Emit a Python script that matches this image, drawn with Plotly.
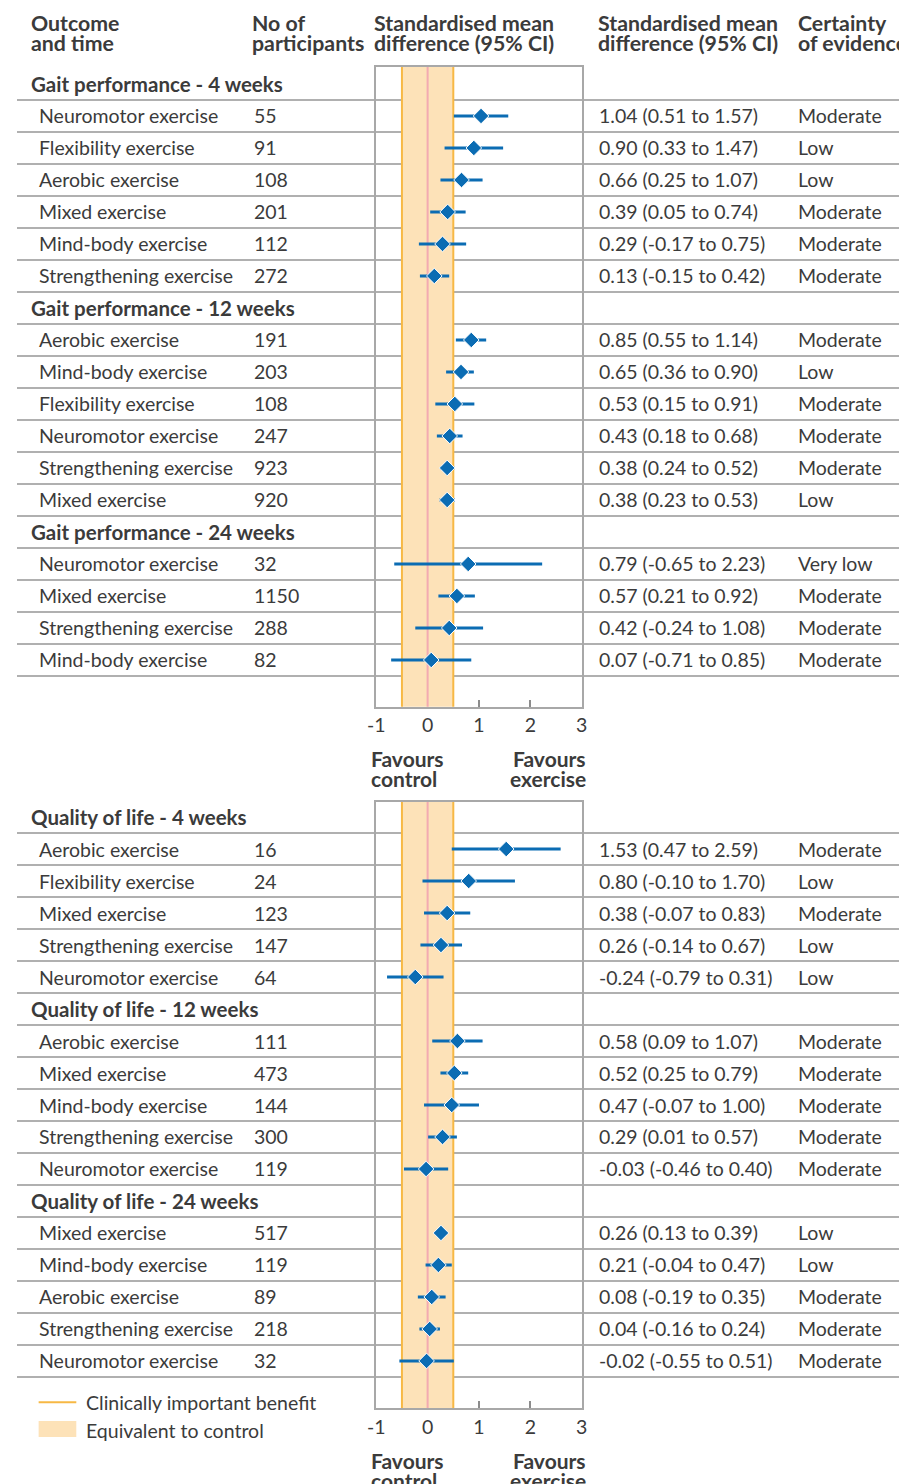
import plotly.graph_objects as go

W, H = 907, 1484

# ---------------- data ----------------
panel1_groups = ["Gait performance - 4 weeks", "Gait performance - 12 weeks", "Gait performance - 24 weeks"]
panel2_groups = ["Quality of life - 4 weeks", "Quality of life - 12 weeks", "Quality of life - 24 weeks"]

gait4_names = ["Neuromotor exercise", "Flexibility exercise", "Aerobic exercise", "Mixed exercise", "Mind-body exercise", "Strengthening exercise"]
gait4_n = [55, 91, 108, 201, 112, 272]
gait4_smd = [1.04, 0.90, 0.66, 0.39, 0.29, 0.13]
gait4_lo = [0.51, 0.33, 0.25, 0.05, -0.17, -0.15]
gait4_hi = [1.57, 1.47, 1.07, 0.74, 0.75, 0.42]
gait4_cert = ["Moderate", "Low", "Low", "Moderate", "Moderate", "Moderate"]

gait12_names = ["Aerobic exercise", "Mind-body exercise", "Flexibility exercise", "Neuromotor exercise", "Strengthening exercise", "Mixed exercise"]
gait12_n = [191, 203, 108, 247, 923, 920]
gait12_smd = [0.85, 0.65, 0.53, 0.43, 0.38, 0.38]
gait12_lo = [0.55, 0.36, 0.15, 0.18, 0.24, 0.23]
gait12_hi = [1.14, 0.90, 0.91, 0.68, 0.52, 0.53]
gait12_cert = ["Moderate", "Low", "Moderate", "Moderate", "Moderate", "Low"]

gait24_names = ["Neuromotor exercise", "Mixed exercise", "Strengthening exercise", "Mind-body exercise"]
gait24_n = [32, 1150, 288, 82]
gait24_smd = [0.79, 0.57, 0.42, 0.07]
gait24_lo = [-0.65, 0.21, -0.24, -0.71]
gait24_hi = [2.23, 0.92, 1.08, 0.85]
gait24_cert = ["Very low", "Moderate", "Moderate", "Moderate"]

qol4_names = ["Aerobic exercise", "Flexibility exercise", "Mixed exercise", "Strengthening exercise", "Neuromotor exercise"]
qol4_n = [16, 24, 123, 147, 64]
qol4_smd = [1.53, 0.80, 0.38, 0.26, -0.24]
qol4_lo = [0.47, -0.10, -0.07, -0.14, -0.79]
qol4_hi = [2.59, 1.70, 0.83, 0.67, 0.31]
qol4_cert = ["Moderate", "Low", "Moderate", "Low", "Low"]

qol12_names = ["Aerobic exercise", "Mixed exercise", "Mind-body exercise", "Strengthening exercise", "Neuromotor exercise"]
qol12_n = [111, 473, 144, 300, 119]
qol12_smd = [0.58, 0.52, 0.47, 0.29, -0.03]
qol12_lo = [0.09, 0.25, -0.07, 0.01, -0.46]
qol12_hi = [1.07, 0.79, 1.00, 0.57, 0.40]
qol12_cert = ["Moderate", "Moderate", "Moderate", "Moderate", "Moderate"]

qol24_names = ["Mixed exercise", "Mind-body exercise", "Aerobic exercise", "Strengthening exercise", "Neuromotor exercise"]
qol24_n = [517, 119, 89, 218, 32]
qol24_smd = [0.26, 0.21, 0.08, 0.04, -0.02]
qol24_lo = [0.13, -0.04, -0.19, -0.16, -0.55]
qol24_hi = [0.39, 0.47, 0.35, 0.24, 0.51]
qol24_cert = ["Low", "Low", "Moderate", "Moderate", "Moderate"]

tick_vals = [-1, 0, 1, 2, 3]
tick_text = ["-1", "0", "1", "2", "3"]
minor_tick_vals = [1, 2]

# ---------------- styling ----------------
FONT = "Lato"
TXT = "#3b3b3b"
BLUE = "#0b6cb3"
PEACH = "#fde2b8"
ORANGE = "#f7b844"
PINK = "#f3aab1"
SEP = "#b0b0b0"
BOX = "#a8a8a8"
FS = 19.5      # regular text
FSG = 20.5     # group headings
FSH = 21.3     # column headings
FSF = 21       # favours labels

OFF = 8  # page body margin in the browser


def PX(x):
    """page x pixel -> paper fraction"""
    return (x - OFF) / W


def PY(y):
    """page y pixel -> paper fraction"""
    return 1 - (y - OFF) / H


def TX(x):
    """glyph start x pixel -> paper fraction for a left anchored annotation"""
    return PX(x - 2)


fig = go.Figure()
annotations = []
shapes = []


def txt(text, x, y, yref, size=FS, xanchor="left", bold=False):
    t = f"<b>{text}</b>" if bold else text
    annotations.append(dict(text=t, x=x, xref="paper", y=y, yref=yref, xanchor=xanchor, yanchor="middle",
                            showarrow=False, font=dict(family=FONT, size=size, color=TXT)))


panels = [
    dict(xa="x", ya="y", groups=[
        (panel1_groups[0], gait4_names, gait4_n, gait4_smd, gait4_lo, gait4_hi, gait4_cert),
        (panel1_groups[1], gait12_names, gait12_n, gait12_smd, gait12_lo, gait12_hi, gait12_cert),
        (panel1_groups[2], gait24_names, gait24_n, gait24_smd, gait24_lo, gait24_hi, gait24_cert),
    ], top=66.7, bottom=706.7, r0=-0.54, r1=19.46),
    dict(xa="x2", ya="y2", groups=[
        (panel2_groups[0], qol4_names, qol4_n, qol4_smd, qol4_lo, qol4_hi, qol4_cert),
        (panel2_groups[1], qol12_names, qol12_n, qol12_smd, qol12_lo, qol12_hi, qol12_cert),
        (panel2_groups[2], qol24_names, qol24_n, qol24_smd, qol24_lo, qol24_hi, qol24_cert),
    ], top=801.7, bottom=1408.3, r0=-0.48, r1=18.48),
]

for p in panels:
    xa, ya = p["xa"], p["ya"]
    ys, xs, plus, minus = [], [], [], []
    i = 0
    for (gname, names, ns, smd, lo, hi, cert) in p["groups"]:
        txt(gname, TX(22.7), i, ya, size=FSG, bold=True)
        shapes.append(dict(type="line", xref="paper", yref=ya, x0=PX(8), x1=1.02, y0=i + 0.5, y1=i + 0.5,
                           line=dict(color=SEP, width=2), layer="below"))
        i += 1
        for k in range(len(names)):
            txt(names[k], TX(30.7), i, ya)
            txt(str(ns[k]), TX(248.5), i, ya)
            txt(f"{smd[k]:.2f} ({lo[k]:.2f} to {hi[k]:.2f})", TX(599.3), i, ya)
            txt(cert[k], TX(802.5), i, ya)
            shapes.append(dict(type="line", xref="paper", yref=ya, x0=PX(8), x1=1.02, y0=i + 0.5, y1=i + 0.5,
                               line=dict(color=SEP, width=2), layer="below"))
            ys.append(i)
            xs.append(smd[k])
            plus.append(hi[k] - smd[k])
            minus.append(smd[k] - lo[k])
            i += 1
    # equivalence band, clinically important benefit lines, zero line
    shapes.append(dict(type="rect", xref=xa, yref=f"{ya} domain", x0=-0.5, x1=0.5, y0=0, y1=1,
                       fillcolor=PEACH, line=dict(width=0), layer="below"))
    for xv in (-0.5, 0.5):
        shapes.append(dict(type="line", xref=xa, yref=f"{ya} domain", x0=xv, x1=xv, y0=0, y1=1,
                           line=dict(color=ORANGE, width=2), layer="below"))
    shapes.append(dict(type="line", xref=xa, yref=f"{ya} domain", x0=0, x1=0, y0=0, y1=1,
                       line=dict(color=PINK, width=2), layer="below"))
    fig.add_trace(go.Scatter(
        x=xs, y=ys, xaxis=xa, yaxis=ya, mode="markers",
        marker=dict(symbol="diamond", size=12, color=BLUE, line=dict(color="white", width=1)),
        error_x=dict(type="data", symmetric=False, array=plus, arrayminus=minus,
                     color=BLUE, thickness=3, width=0),
        showlegend=False, hoverinfo="skip"))

ax_common = dict(range=[-1, 3], tickvals=tick_vals, ticktext=tick_text, ticks="", showgrid=False,
                 zeroline=False, showline=True, mirror=True, linecolor=BOX, linewidth=2,
                 minor=dict(tickvals=minor_tick_vals, ticks="inside", ticklen=7, tickwidth=2,
                            tickcolor="#8c8c8c", showgrid=False),
                 tickfont=dict(family=FONT, size=FS, color=TXT), fixedrange=True)
ay_common = dict(showticklabels=False, ticks="", showgrid=False, zeroline=False,
                 showline=True, mirror=True, linecolor=BOX, linewidth=2, fixedrange=True)

p1, p2 = panels
fig.update_layout(
    xaxis=dict(domain=[PX(373.3), PX(582.2)], anchor="y", **ax_common),
    yaxis=dict(domain=[PY(p1["bottom"]), PY(p1["top"])], range=[p1["r1"], p1["r0"]], anchor="x", **ay_common),
    xaxis2=dict(domain=[PX(373.3), PX(582.2)], anchor="y2", **ax_common),
    yaxis2=dict(domain=[PY(p2["bottom"]), PY(p2["top"])], range=[p2["r1"], p2["r0"]], anchor="x2", **ay_common),
)

# column headings (two lines each)
hdrs = [(22, "Outcome", "and time"), (247, "No of", "participants"),
        (370.7, "Standardised mean", "difference (95% CI)"),
        (599, "Standardised mean", "difference (95% CI)"), (802, "Certainty", "of evidence")]
for x, l1, l2 in hdrs:
    txt(l1, TX(x), PY(23.3), "paper", size=FSH, bold=True)
    txt(l2, TX(x), PY(43.3), "paper", size=FSH, bold=True)

# favours labels
for y1 in (758.3, 1460):
    txt("Favours", TX(367.7), PY(y1), "paper", size=FSF, bold=True)
    txt("control", TX(367.7), PY(y1 + 20), "paper", size=FSF, bold=True)
    txt("Favours", PX(588.5), PY(y1), "paper", size=FSF, xanchor="right", bold=True)
    txt("exercise", PX(588.5), PY(y1 + 20), "paper", size=FSF, xanchor="right", bold=True)

# legend
shapes.append(dict(type="line", xref="paper", yref="paper", x0=PX(30), x1=PX(68.3), y0=PY(1402.3), y1=PY(1402.3),
                   line=dict(color=ORANGE, width=2)))
shapes.append(dict(type="rect", xref="paper", yref="paper", x0=PX(30), x1=PX(68.3), y0=PY(1437), y1=PY(1421),
                   fillcolor=PEACH, line=dict(width=0)))
txt("Clinically important benefit", TX(78.3), PY(1402), "paper")
txt("Equivalent to control", TX(78.3), PY(1430), "paper")

fig.update_layout(
    width=W, height=H, autosize=False,
    margin=dict(l=0, r=0, t=0, b=0),
    paper_bgcolor="white", plot_bgcolor="rgba(0,0,0,0)",
    annotations=annotations, shapes=shapes,
    font=dict(family=FONT, size=FS, color=TXT),
    showlegend=False,
)

fig.write_html("out.html")
